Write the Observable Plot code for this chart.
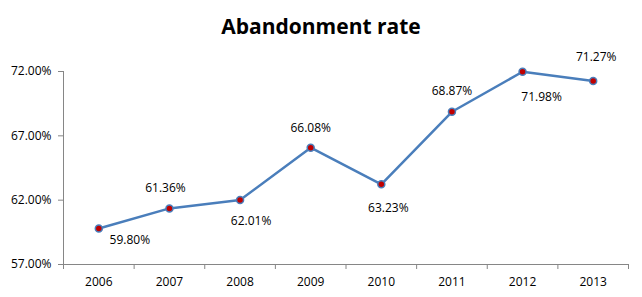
<!DOCTYPE html>
<html>
<head>
<meta charset="utf-8">
<script src="https://cdn.jsdelivr.net/npm/d3@7"></script>
<script src="https://cdn.jsdelivr.net/npm/@observablehq/plot@0.6"></script>
<style>
  html, body { margin: 0; padding: 0; background: #fff; }
  #title { height: 34px; padding-top: 12px; line-height: 27px; font: bold 21px "Open Sans", sans-serif; text-align: center; color: #000; }
  #chart svg { display: block; }
</style>
</head>
<body>
<div id="title">Abandonment rate</div>
<div id="chart"></div>
<script>
// ---- data ----
const years = [2006, 2007, 2008, 2009, 2010, 2011, 2012, 2013];
const rates = [59.80, 61.36, 62.01, 66.08, 63.23, 68.87, 71.98, 71.27];
const yTicks = [57, 62, 67, 72];

// ---- label placement (layout, not data) ----
const labelOffsets = {
  2006: [31, 12], 2007: [-4, -20], 2008: [11, 21], 2009: [0, -20],
  2010: [7, 24], 2011: [0, -21], 2012: [19, 25], 2013: [3, -24]
};

const data = years.map((year, i) => ({ year, rate: rates[i] }));
const boundaries = years.map(y => y - 0.5).concat([years[years.length - 1] + 0.5]);
const fmt = v => v.toFixed(2) + "%";
const axisColor = "#868686";

const labelMarks = data.map(d => Plot.text([d], {
  x: "year", y: "rate", text: d => fmt(d.rate),
  dx: labelOffsets[d.year][0], dy: labelOffsets[d.year][1],
  fill: "#000", fontSize: 12
}));

const chart = Plot.plot({
  width: 642, height: 251,
  marginTop: 25, marginBottom: 33, marginLeft: 63, marginRight: 14,
  style: { fontFamily: "Open Sans, sans-serif", fontSize: "12px", color: "#000", background: "#fff" },
  x: { domain: [boundaries[0], boundaries[boundaries.length - 1]] },
  y: { domain: [yTicks[0], yTicks[yTicks.length - 1]] },
  marks: [
    Plot.axisY(yTicks, { tickSize: 5, tickPadding: 7, tickFormat: fmt, stroke: axisColor, fill: "#000", fontSize: 12, label: null }),
    Plot.axisX(boundaries, { tickSize: 5, tickFormat: () => "", stroke: axisColor, fill: "none", label: null }),
    Plot.axisX(years, { tickSize: 0, tickPadding: 13, tickFormat: d => String(d), fill: "#000", fontSize: 12, label: null }),
    Plot.ruleX([boundaries[0]], { stroke: axisColor }),
    Plot.ruleY([yTicks[0]], { stroke: axisColor }),
    Plot.line(data, { x: "year", y: "rate", stroke: "#4a7ebb", strokeWidth: 2.5 }),
    Plot.dot(data, { x: "year", y: "rate", r: 3.5, fill: "#c00000", stroke: "#4a7ebb", strokeWidth: 1.5 }),
    ...labelMarks
  ]
});
document.getElementById("chart").appendChild(chart);
</script>
</body>
</html>
